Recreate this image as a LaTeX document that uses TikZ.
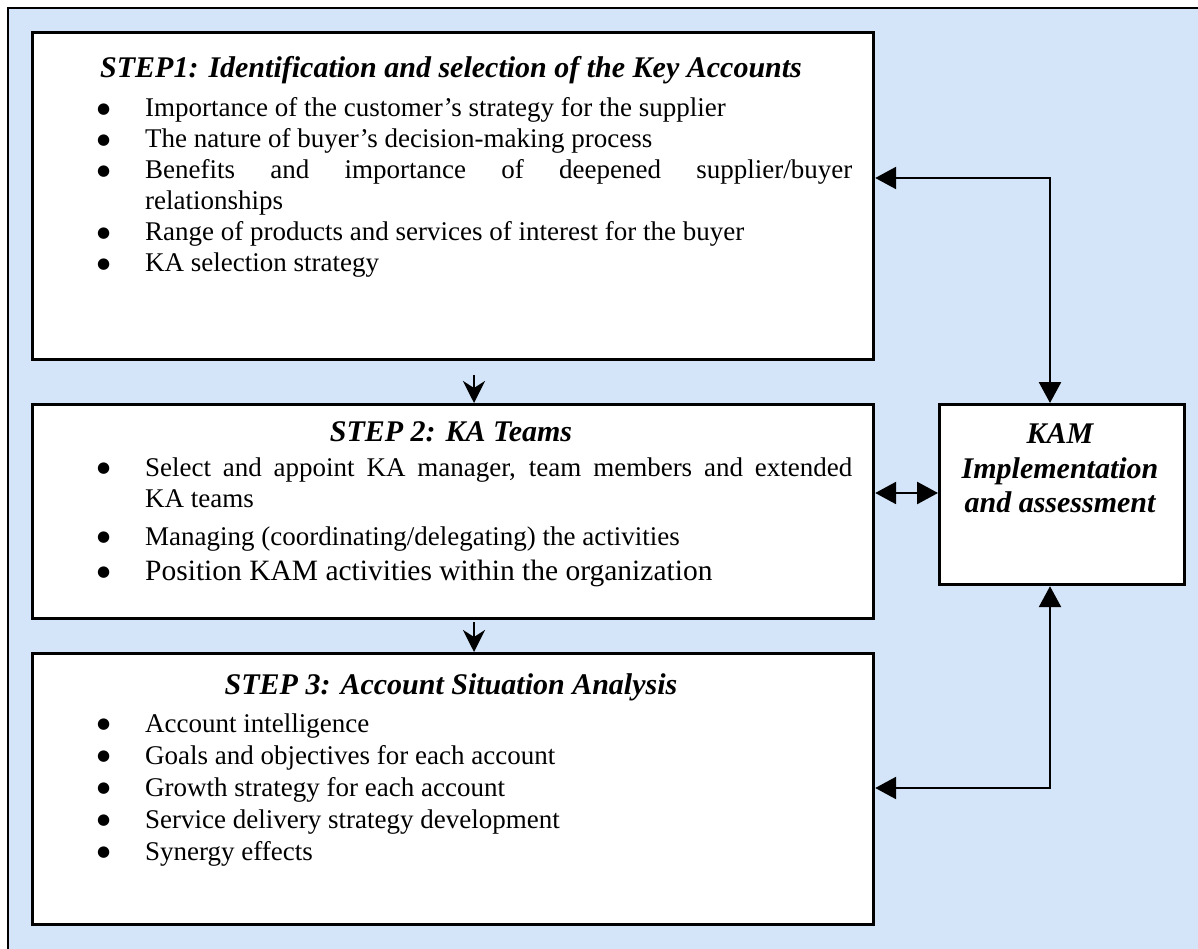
\documentclass[tikz,border=0pt]{standalone}
\usepackage{fontspec}
\setmainfont{Liberation Serif}
\newfontfamily\dotfont{DejaVu Sans}
\usetikzlibrary{arrows.meta}
\definecolor{paper}{RGB}{212,229,249}

\begin{document}
\begin{tikzpicture}[x=1pt,y=-1pt,
  box/.style={draw=black, line width=3.2pt, fill=white, inner sep=0pt, anchor=north west},
  ttl/.style={font=\fontsize{30}{35}\selectfont\bfseries\itshape, anchor=base, inner sep=0pt},
  item/.style={font=\fontsize{27}{31}\selectfont, anchor=base west, inner sep=0pt},
  bigitem/.style={font=\fontsize{29.5}{34}\selectfont, anchor=base west, inner sep=0pt},
  link/.style={line width=2.6pt, {Triangle[length=21pt,width=22pt]}-{Triangle[length=21pt,width=22pt]}},
  down/.style={line width=2.6pt, -{Stealth[length=22pt,width=22pt,inset=7pt]}}
]
\newcommand{\bul}{\makebox[47pt][l]{\hspace*{-1pt}\raisebox{3.5pt}{\dotfont\fontsize{15}{15}\selectfont ●}}}
\useasboundingbox (0,0) rectangle (1198,949);
% page ground and frame
\fill[white] (0,0) rectangle (1198,949);
\fill[paper] (8,8) rectangle (1198,949);
\draw[line width=2.5pt] (8,949) -- (8,8) -- (1198,8);

% boxes
\node[box, minimum width=841pt, minimum height=327pt] (s1) at (31,31) {};
\node[box, minimum width=841pt, minimum height=214pt] (s2) at (31,403) {};
\node[box, minimum width=841pt, minimum height=271pt] (s3) at (31,652) {};
\node[box, minimum width=245pt, minimum height=180pt] (kam) at (938,403) {};

% step 1
\node[ttl] (t1) at (451,78) {STEP1: Identification and selection of the Key Accounts};
\node[item] (a1) at (98,117) {\bul Importance of the customer’s strategy for the supplier};
\node[item] (a2) at (98,148) {\bul The nature of buyer’s decision-making process};
\node[item] (a3) at (98,179) {\bul\makebox[707pt][s]{Benefits and importance of deepened supplier/buyer}};
\node[item] (a3b) at (145,210) {relationships};
\node[item] (a4) at (98,241) {\bul Range of products and services of interest for the buyer};
\node[item] (a5) at (98,272) {\bul KA selection strategy};

% step 2
\node[ttl] (t2) at (451,441) {STEP 2: KA Teams};
\node[item] (b1) at (98,476) {\bul\makebox[707pt][s]{Select and appoint KA manager, team members and extended}};
\node[item] (b1b) at (145,507) {KA teams};
\node[item] (b2) at (98,545) {\bul Managing (coordinating/delegating) the activities};
\node[bigitem] (b3) at (98,580) {\bul Position KAM activities within the organization};

% step 3
\node[ttl] (t3) at (451,694) {STEP 3: Account Situation Analysis};
\node[item] (c1) at (98,732) {\bul Account intelligence};
\node[item] (c2) at (98,764) {\bul Goals and objectives for each account};
\node[item] (c3) at (98,796) {\bul Growth strategy for each account};
\node[item] (c4) at (98,828) {\bul Service delivery strategy development};
\node[item] (c5) at (98,860) {\bul Synergy effects};

% implementation box
\node[ttl] (k1) at (1060,443) {KAM};
\node[ttl] (k2) at (1060,478) {Implementation};
\node[ttl] (k3) at (1060,512) {and assessment};

% connectors
\coordinate (u1) at (1050,178);
\coordinate (u2) at (905,493);
\coordinate (u3) at (1050,788);
\draw[link] (s1.east |- u1) -- (u1) -- (kam.north -| u1);
\draw[link] (s2.east |- u2) -- (kam.west |- u2);
\draw[link] (s3.east |- u3) -- (u3) -- (kam.south -| u3);

\coordinate (d1) at (474,375);
\coordinate (d2) at (474,622);
\draw[down] (d1) -- (d1 |- s2.north);
\draw[down] (d2) -- (d2 |- s3.north);
\end{tikzpicture}
\end{document}
